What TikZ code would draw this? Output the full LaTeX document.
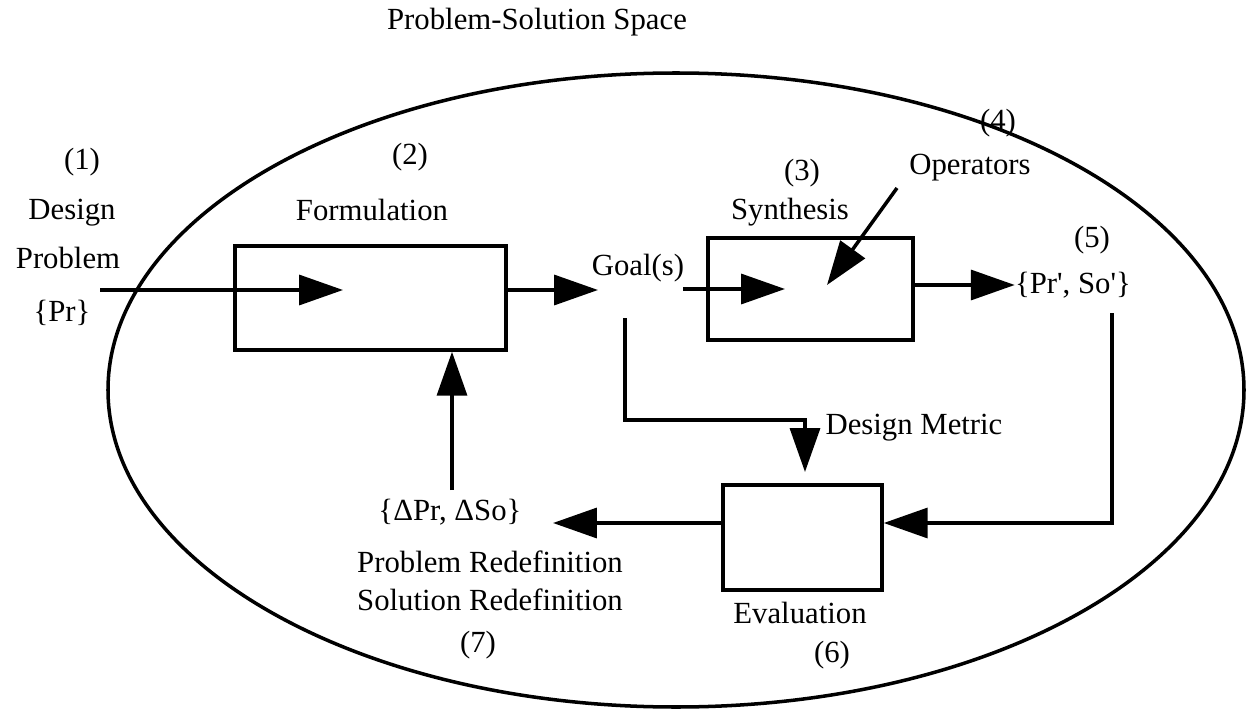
\documentclass[tikz,border=0pt]{standalone}
\usepackage{fontspec}
\setmainfont{Liberation Serif}
\usepackage{tikz}
\usetikzlibrary{arrows.meta}

\begin{document}
\begin{tikzpicture}[x=0.02cm, y=-0.02cm,
        lbl/.style={font=\fontsize{17.5}{21}\selectfont, inner sep=0pt},
        blk/.style={draw, line width=2pt, inner sep=0pt},
        arr/.style={line width=2pt, -{Triangle[length=0.88cm, width=0.6cm]}}]
        \useasboundingbox (0,0) rectangle (1249,710);
        \draw[line width=2pt] (676,390) ellipse [x radius=568, y radius=317];
        \node[lbl] (title) at (537,22) {Problem-Solution Space};

        % boxes
        \node[blk, minimum width=5.42cm, minimum height=2.08cm] (form) at (370.5,298) {};
        \node[blk, minimum width=4.1cm, minimum height=2.04cm] (synth) at (810.5,289) {};
        \node[blk, minimum width=3.18cm, minimum height=2.1cm] (eval) at (802.5,537.5) {};

        % labels
        \node[lbl] (n1) at (82,162) {(1)};
        \node[lbl] (design) at (72,213) {Design};
        \node[lbl] (problem) at (68,258) {Problem};
        \node[lbl] (pr) at (62,313) {\{Pr\}};
        \node[lbl] (n2) at (410,157) {(2)};
        \node[lbl] (formlbl) at (372,210) {Formulation};
        \node[lbl] (goal) at (638,268) {Goal(s)};
        \node[lbl] (n3) at (802,173) {(3)};
        \node[lbl] (synthlbl) at (790,212) {Synthesis};
        \node[lbl] (n4) at (998,123) {(4)};
        \node[lbl] (oper) at (970,168) {Operators};
        \node[lbl] (n5) at (1092,240) {(5)};
        \node[lbl] (prso) at (1073,285) {\{Pr\textquotesingle, So\textquotesingle\}};
        \node[lbl] (metric) at (914,428) {Design Metric};
        \node[lbl] (delta) at (450,512) {\{ΔPr, ΔSo\}};
        \node[lbl] (redefp) at (490,562) {Problem Redefinition};
        \node[lbl] (redefs) at (490,600) {Solution Redefinition};
        \node[lbl] (n7) at (478,645) {(7)};
        \node[lbl] (evallbl) at (800,613) {Evaluation};
        \node[lbl] (n6) at (832,655) {(6)};

        % free ends
        \coordinate (pin) at (100,290);
        \coordinate (fin) at (343,290);
        \coordinate (gin) at (598,290);
        \coordinate (gout) at (683,289);
        \coordinate (sin) at (785,289);
        \coordinate (opin) at (897,188);
        \coordinate (opout) at (827,285);
        \coordinate (pout) at (1112,313);
        \coordinate (gdown) at (625,318);
        \coordinate (dtop) at (452,490);

        % connectors
        \draw[arr] (pin) -- (fin);
        \draw[arr] (form.east |- fin) -- (gin);
        \draw[arr] (gout) -- (sin);
        \draw[arr] (opin) -- (opout);
        \draw[arr] (synth.east |- prso) -- (prso.west);
        \draw[arr] (pout) -- (pout |- 0,523) -- (eval.east |- 0,523);
        \draw[arr] (gdown) -- (625,420) -- (805,420) -- (805,472);
        \draw[arr] (eval.west |- 0,523) -- (553,523);
        \draw[arr] (dtop) -- (dtop |- form.south);
    \end{tikzpicture}
\end{document}
